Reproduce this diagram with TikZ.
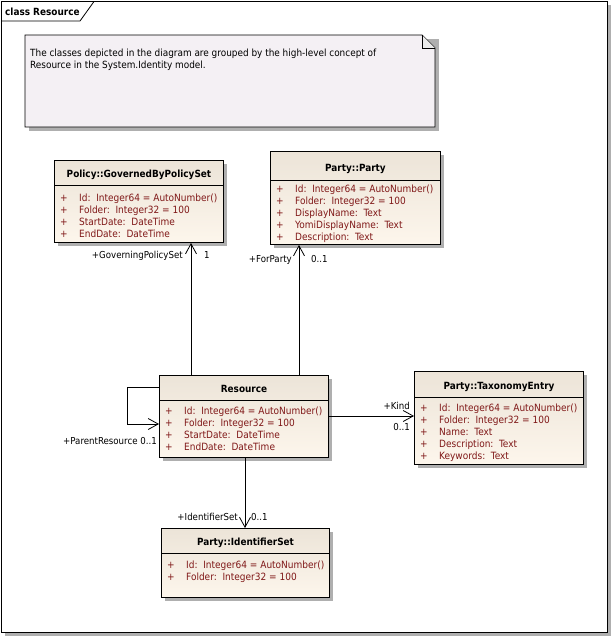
\documentclass[tikz,border=0pt]{standalone}
\usepackage{fontspec}
\setmainfont{DejaVu Sans Condensed}
\usetikzlibrary{arrows.meta,shadows}
\definecolor{attrcol}{RGB}{128,24,24}
\definecolor{clstop}{RGB}{236,228,216}
\definecolor{clsbot}{RGB}{253,246,236}
\definecolor{notefill}{RGB}{244,240,244}
\definecolor{shadecol}{RGB}{175,175,175}
\tikzset{
  classbox/.style={draw=black, line width=1pt, rectangle, inner sep=0pt, anchor=north west,
    top color=clstop, bottom color=clsbot,
    drop shadow={shadow xshift=3.5pt, shadow yshift=-3.5pt, fill=shadecol, opacity=1}},
  sepline/.style={line width=0.7pt},
  titletext/.style={font=\fontsize{9.9}{11}\selectfont\bfseries, anchor=base, inner sep=0pt},
  attrtext/.style={font=\fontsize{10}{11}\selectfont, text=attrcol, anchor=base west, inner sep=0pt},
  lbl/.style={font=\fontsize{9.6}{11}\selectfont, anchor=base west, inner sep=0pt},
  lblr/.style={font=\fontsize{9.6}{11}\selectfont, anchor=base east, inner sep=0pt},
  assoc/.style={line width=0.8pt, -{Straight Barb[length=10pt,width=11pt,line width=0.8pt]}},
}
% \clsattr{box}{dy from top}{text}
\newcommand\clsattr[3]{%
  \node[attrtext] at ([xshift=6pt,yshift=-#2pt]#1.north west) {+};
  \node[attrtext] at ([xshift=25pt,yshift=-#2pt]#1.north west) {#3};
}
\begin{document}
\begin{tikzpicture}[x=1pt,y=-1pt]
\useasboundingbox (0,0) rectangle (613,638);
% frame
\fill[shadecol] (5,5) rectangle (611,636);
\draw[line width=1.2pt, fill=white] (1.5,1.5) rectangle (607.5,632.5);
\draw[line width=0.8pt] (1.5,21) -- (80,21) -- (94,1.5);
\node[font=\fontsize{9.9}{11}\selectfont\bfseries, anchor=base west, inner sep=0pt] (frametitle) at (5,15) {class Resource};

% note
\fill[shadecol] (28.5,38.5) -- (438.5,38.5) -- (438.5,130.5) -- (28.5,130.5) -- cycle;
\draw[line width=0.8pt, fill=notefill] (25,35) -- (422,35) -- (435,48) -- (435,127) -- (25,127) -- cycle;
\draw[line width=0.6pt, fill=black!8] (422,35) -- (422,48) -- (435,48);
\node[font=\fontsize{9.9}{11.5}\selectfont, anchor=north west, align=left, inner sep=0pt] (note) at (30,49)
 {The classes depicted in the diagram are grouped by the high-level concept of\\Resource in the System.Identity model.};

% Policy::GovernedByPolicySet
\node[classbox, minimum width=169pt, minimum height=82pt] (pol) at (54,160) {};
\draw[sepline] ([yshift=-25pt]pol.north west) -- ([yshift=-25pt]pol.north east);
\node[titletext] at ([yshift=-17pt]pol.north) {Policy::GovernedByPolicySet};
\clsattr{pol}{41}{Id:\ \ Integer64 = AutoNumber()}
\clsattr{pol}{53}{Folder:\ \ Integer32 = 100}
\clsattr{pol}{65}{StartDate:\ \ DateTime}
\clsattr{pol}{77}{EndDate:\ \ DateTime}

% Party::Party
\node[classbox, minimum width=170pt, minimum height=93pt] (party) at (270,151) {};
\draw[sepline] ([yshift=-29pt]party.north west) -- ([yshift=-29pt]party.north east);
\node[titletext] at ([yshift=-20pt]party.north) {Party::Party};
\clsattr{party}{41}{Id:\ \ Integer64 = AutoNumber()}
\clsattr{party}{53}{Folder:\ \ Integer32 = 100}
\clsattr{party}{65}{DisplayName:\ \ Text}
\clsattr{party}{77}{YomiDisplayName:\ \ Text}
\clsattr{party}{89}{Description:\ \ Text}

% Resource
\node[classbox, minimum width=169pt, minimum height=82pt] (res) at (159,375) {};
\draw[sepline] ([yshift=-25pt]res.north west) -- ([yshift=-25pt]res.north east);
\node[titletext] at ([yshift=-17pt]res.north) {Resource};
\clsattr{res}{39}{Id:\ \ Integer64 = AutoNumber()}
\clsattr{res}{51}{Folder:\ \ Integer32 = 100}
\clsattr{res}{63}{StartDate:\ \ DateTime}
\clsattr{res}{75}{EndDate:\ \ DateTime}

% Party::TaxonomyEntry
\node[classbox, minimum width=169pt, minimum height=93pt] (tax) at (414,371) {};
\draw[sepline] ([yshift=-26pt]tax.north west) -- ([yshift=-26pt]tax.north east);
\node[titletext] at ([yshift=-18pt]tax.north) {Party::TaxonomyEntry};
\clsattr{tax}{40}{Id:\ \ Integer64 = AutoNumber()}
\clsattr{tax}{52}{Folder:\ \ Integer32 = 100}
\clsattr{tax}{64}{Name:\ \ Text}
\clsattr{tax}{76}{Description:\ \ Text}
\clsattr{tax}{88}{Keywords:\ \ Text}

% Party::IdentifierSet
\node[classbox, minimum width=168pt, minimum height=69pt] (ids) at (161,528) {};
\draw[sepline] ([yshift=-25pt]ids.north west) -- ([yshift=-25pt]ids.north east);
\node[titletext] at ([yshift=-17pt]ids.north) {Party::IdentifierSet};
\clsattr{ids}{40}{Id:\ \ Integer64 = AutoNumber()}
\clsattr{ids}{52}{Folder:\ \ Integer32 = 100}

% connectors
\draw[assoc] ([xshift=32pt]res.north west) -- ([xshift=32pt]res.north west |- pol.south);
\node[lblr] (l1) at (183,258) {+GoverningPolicySet};
\node[lbl] (l2) at (204,258) {1};

\draw[assoc] ([xshift=140pt]res.north west) -- ([xshift=140pt]res.north west |- party.south);
\node[lblr] (l3) at (292,262) {+ForParty};
\node[lbl] (l4) at (311,262) {0..1};

\draw[assoc] ([yshift=-41pt]res.north east) -- ([yshift=-41pt]res.north east -| tax.west);
\node[lblr] (l5) at (410,409) {+Kind};
\node[lblr] (l6) at (410,430) {0..1};

\draw[assoc] ([yshift=-12pt]res.north west) -- ++(-32,0) -- ++(0,37) -- ([yshift=-49pt]res.north west);
\node[lblr] (l7) at (157,444) {+ParentResource 0..1};

\draw[assoc] ([xshift=86pt]res.south west) -- ([xshift=86pt]res.south west |- ids.north);
\node[lblr] (l8) at (238,520) {+IdentifierSet};
\node[lbl] (l9) at (251,520) {0..1};
\end{tikzpicture}
\end{document}
